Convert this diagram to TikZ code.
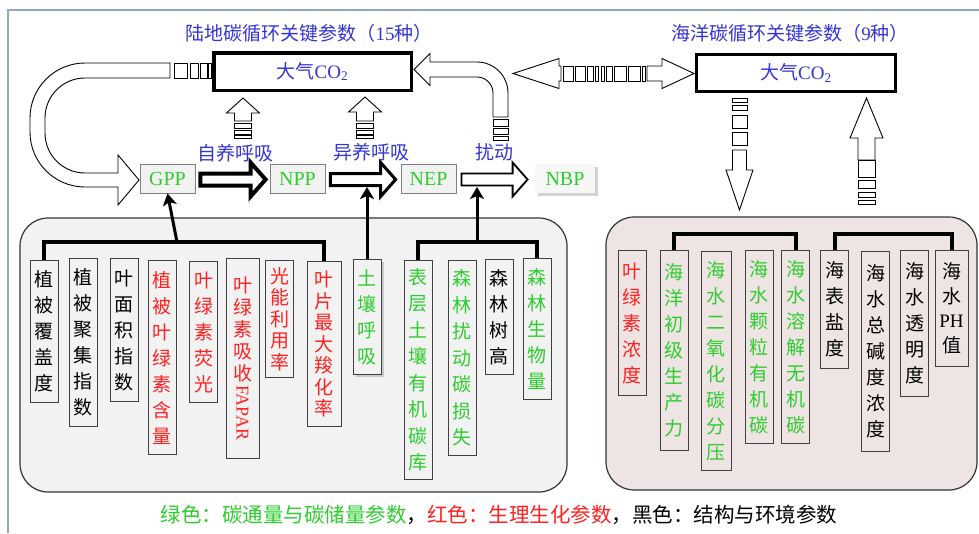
\documentclass[tikz,border=0pt]{standalone}
\usepackage{fontspec}
\usepackage{graphicx}
\setmainfont{Noto Sans CJK SC}
\newfontfamily\tnr{Liberation Serif}
\usetikzlibrary{arrows.meta,shadows,calc}
\definecolor{frm}{HTML}{8EA9C1}
\definecolor{tblue}{HTML}{3535D2}
\definecolor{tgreen}{HTML}{2ECC2E}
\definecolor{tred}{HTML}{FF2020}
\definecolor{lfill}{HTML}{F2F2F2}
\definecolor{rfill}{HTML}{EFE4E4}
\definecolor{bordg}{HTML}{404040}
\tikzset{
 vb/.style={draw=bordg, line width=1pt, inner xsep=0pt, inner ysep=0pt, minimum width=28pt,
   align=center, anchor=north, font=\fontsize{19}{26}\selectfont},
 vt/.style={vb, font=\fontsize{19}{21.5}\selectfont},
 fbox/.style={draw=gray, fill=lfill, line width=0.8pt, minimum width=55pt, minimum height=29pt,
   inner sep=0pt, text=tgreen, font=\tnr\fontsize{20}{24}\selectfont},
 co2/.style={draw=black, fill=white, line width=3.5pt, inner sep=0pt, text=tblue,
   font=\fontsize{19}{22}\selectfont},
 ttl/.style={text=tblue, inner sep=0pt, font=\fontsize{19}{22}\selectfont},
 barr/.style={draw=black, fill=white, line width=0.9pt, line join=miter},
 brk/.style={line width=4pt, line join=miter},
 uparr/.style={line width=3pt, -{Stealth[width=14pt,length=12pt,inset=3pt]}},
 cont/.style={draw=black!80, line width=1.2pt, rounded corners=28pt},
 shd/.style={drop shadow={shadow xshift=2.5pt,shadow yshift=-2.5pt,opacity=0.35}},
}
% block arrow: cx, tip, base, shaft end, half shaft, half head
\newcommand\myvarr[6]{\draw[barr] (#1-#5,#4) -- (#1-#5,#3) -- (#1-#6,#3) -- (#1,#2) -- (#1+#6,#3) -- (#1+#5,#3) -- (#1+#5,#4) -- cycle;}
% flow arrow between two nodes: opts, from, to, tip gap
\newcommand\myflow[4]{\draw[#1] let \p1=($(#2.east)+(5,1)$), \p2=($(#3.west)+(-#4,0)$) in
 (\x1,\y1+6pt) -- (\x2-15pt,\y1+6pt) -- (\x2-15pt,\y1+17pt) -- (\x2,\y1) -- (\x2-15pt,\y1-17pt) -- (\x2-15pt,\y1-6pt) -- (\x1,\y1-6pt) -- cycle;}
\begin{document}
\begin{tikzpicture}[x=1pt,y=-1pt]
\useasboundingbox (0,0) rectangle (979,533);
\fill[white] (0,0) rectangle (979,533);
\draw[frm, line width=1.5pt] (8,533) -- (8,10) -- (979,10);

% titles
\node[ttl] (tland) at (309,33) {陆地碳循环关键参数（{\tnr 15}种）};
\node[ttl] (tocean) at (790,33) {海洋碳循环关键参数（{\tnr 9}种）};

% containers
\draw[cont, fill=lfill] (20,218) rectangle (567,492);
\draw[cont, fill=rfill] (606,217) rectangle (977,490);

% CO2 boxes
\node[co2, minimum width=197.5pt, minimum height=37.5pt] (co2l) at (312.5,71.5) {大气{\tnr CO\textsubscript{2}}};
\node[co2, line width=3pt, minimum width=199pt, minimum height=37pt] (co2o) at (796,73) {大气{\tnr CO\textsubscript{2}}};

% flow boxes
\node[fbox] (gpp) at (167.5,178.5) {GPP};
\node[fbox] (npp) at (297.5,178.5) {NPP};
\node[fbox] (nep) at (428.5,178.5) {NEP};
\node[fbox, draw=none, fill=white!97!black, minimum width=60pt, shd] (nbp) at (565,178.5) {NBP};

% flow arrows
\myflow{draw=black, fill=white, line width=4pt, line join=miter}{gpp}{npp}{4}
\myflow{draw=black, fill=white, line width=3pt, line join=miter}{npp}{nep}{5}
\myflow{draw=black, fill=white, line width=1.8pt, line join=miter}{nep}{nbp}{7}
\coordinate (a2b) at (366,187);
\coordinate (a3b) at (477,187);

% labels
\node[ttl] (lab1) at (235,153) {自养呼吸};
\node[ttl] (lab2) at (371,152) {异养呼吸};
\node[ttl] (lab3) at (494.5,152) {扰动};

% U arrow from land CO2 to GPP
\draw[barr] (170,63) -- (85,63) .. controls (54.6,63) and (30,87.6) .. (30,118) -- (30,132)
  .. controls (30,162.4) and (54.6,187) .. (85,187) -- (118,187) -- (118,205) -- (139,180)
  -- (118,155) -- (118,173) -- (85,173) .. controls (62.9,173) and (45,155.1) .. (45,133)
  -- (45,118) .. controls (45,95.9) and (62.9,78) .. (85,78) -- (170,78) -- cycle;
\foreach \a/\b in {174/187,190/198,200/207,208/211} \draw[barr] (\a,63) rectangle (\b,78);

% disturbance arrow to land CO2
\draw[barr] (430,62) -- (477,62) .. controls (494.1,62) and (508,75.9) .. (508,93) -- (508,117)
  -- (493,117) -- (493,93) .. controls (493,84.2) and (485.8,77) .. (477,77) -- (430,77)
  -- (430,85.5) -- (414,69.5) -- (430,53.5) -- cycle;
\foreach \a/\b in {119/126,128/134,136/140} \draw[barr] (493,\a) rectangle (508,\b);

% respiration up arrows
\myvarr{243}{98}{113}{121}{8.5}{16.5}
\foreach \a/\b in {123/128,130/134,135.5/138.5} \draw[barr] (234.5,\a) rectangle (251.5,\b);
\myvarr{365}{97}{112}{121}{8.5}{16.5}
\foreach \a/\b in {123/128,130/134,135.5/138.5} \draw[barr] (356.5,\a) rectangle (373.5,\b);

% double arrow between CO2 boxes
\draw[barr] (561,66) -- (559,66) -- (559,58.5) -- (513,73.5) -- (559,88.5) -- (559,81) -- (561,81) -- cycle;
\foreach \a/\b in {563/573,575/585,587/593,595/598,601/604,606/612,614/626,628/640,642/645} \draw[barr] (\a,66) rectangle (\b,81);
\draw[barr] (647,66) -- (662,66) -- (662,58.5) -- (694,73.5) -- (662,88.5) -- (662,81) -- (647,81) -- cycle;

% ocean arrows
\foreach \a/\b in {98/102,105/110,115/128,132/145} \draw[barr] (732,\a) rectangle (747,\b);
\myvarr{739.5}{210}{170}{150}{7}{13.5}
\myvarr{866.5}{98}{138}{160}{8.5}{16.5}
\foreach \a/\b in {160/177,180/188,192/197,200/204} \draw[barr] (858,\a) rectangle (875,\b);

% land parameter boxes
\node[vb, minimum height=142pt] (b1) at (44,260) {植\\被\\覆\\盖\\度};
\node[vb, minimum height=168pt] (b2) at (83,258) {植\\被\\聚\\集\\指\\数};
\node[vb, minimum height=143pt] (b3) at (124,258) {叶\\面\\积\\指\\数};
\node[vb, text=tred, minimum height=194pt] (b4) at (162,260) {植\\被\\叶\\绿\\素\\含\\量};
\node[vb, text=tred, minimum height=141pt] (b5) at (203.5,261) {叶\\绿\\素\\荧\\光};
\node[vb, text=tred, minimum width=33pt, minimum height=200pt, font=\fontsize{19}{22}\selectfont] (b6) at (242.5,258)
  {叶\\绿\\素\\吸\\收\\[-17pt]\rotatebox{-90}{\tnr\fontsize{18}{18}\selectfont FAPAR}};
\node[vt, text=tred, minimum height=117pt] (b7) at (279.5,260) {光\\能\\利\\用\\率};
\node[vt, text=tred, minimum width=34pt, minimum height=165pt] (b8) at (324,261) {叶\\片\\最\\大\\羧\\化\\率};
\node[vb, text=tgreen, fill=lfill, minimum height=115pt, shd] (b9) at (367,259) {土\\壤\\呼\\吸};
\node[vb, text=tgreen, minimum height=219pt, font=\fontsize{19}{26.5}\selectfont] (b10) at (418,260) {表\\层\\土\\壤\\有\\机\\碳\\库};
\node[vb, text=tgreen, minimum height=195pt, font=\fontsize{19}{26.5}\selectfont] (b11) at (462,260) {森\\林\\扰\\动\\碳\\损\\失};
\node[vb, minimum height=115pt] (b12) at (499,259) {森\\林\\树\\高};
\node[vb, text=tgreen, minimum height=141pt] (b13) at (537,258) {森\\林\\生\\物\\量};

% land brackets and stems
\draw[brk] (b1.north) |- ($(b8.north)+(0,-19)$) -- (b8.north);
\draw[brk] (b10.north) |- ($(b13.north)+(0,-16)$) -- (b13.north);
\coordinate (k1) at (177,242);
\coordinate (k3) at (477,242);
\draw[uparr] (k1) -- (gpp.south);
\draw[uparr] (b9.north) -- (b9.north |- a2b);
\draw[uparr] (k3) -- (a3b);

% ocean parameter boxes
\node[vb, text=tred, minimum height=145pt] (r1) at (632,250) {叶\\绿\\素\\浓\\度};
\node[vb, text=tgreen, minimum height=200pt] (r2) at (674,250) {海\\洋\\初\\级\\生\\产\\力};
\node[vb, text=tgreen, minimum width=30pt, minimum height=219pt] (r3) at (716,251) {海\\水\\二\\氧\\化\\碳\\分\\压};
\node[vb, text=tgreen, minimum height=193pt] (r4) at (759,250) {海\\水\\颗\\粒\\有\\机\\碳};
\node[vb, text=tgreen, minimum height=193pt] (r5) at (795.5,250) {海\\水\\溶\\解\\无\\机\\碳};
\node[vb, minimum height=118pt] (r6) at (834.5,250) {海\\表\\盐\\度};
\node[vb, minimum height=200pt] (r7) at (875.5,251) {海\\水\\总\\碱\\度\\浓\\度};
\node[vb, minimum height=146pt] (r8) at (914.5,250) {海\\水\\透\\明\\度};
\node[vb, minimum width=33pt, minimum height=116pt, font=\fontsize{19}{24.5}\selectfont] (r9) at (951.5,250) {海\\水\\{\tnr PH}\\值};
\draw[brk] (r2.north) |- ($(r5.north)+(0,-16)$) -- (r5.north);
\draw[brk] (r6.north) |- ($(r9.north)+(0,-16)$) -- (r9.north);

% legend
\node[inner sep=0pt, font=\fontsize{20.5}{24}\selectfont] (leg) at (499,515)
 {\textcolor{tgreen}{绿色：碳通量与碳储量参数}，\textcolor{tred}{红色：生理生化参数}，黑色：结构与环境参数};
\end{tikzpicture}
\end{document}
